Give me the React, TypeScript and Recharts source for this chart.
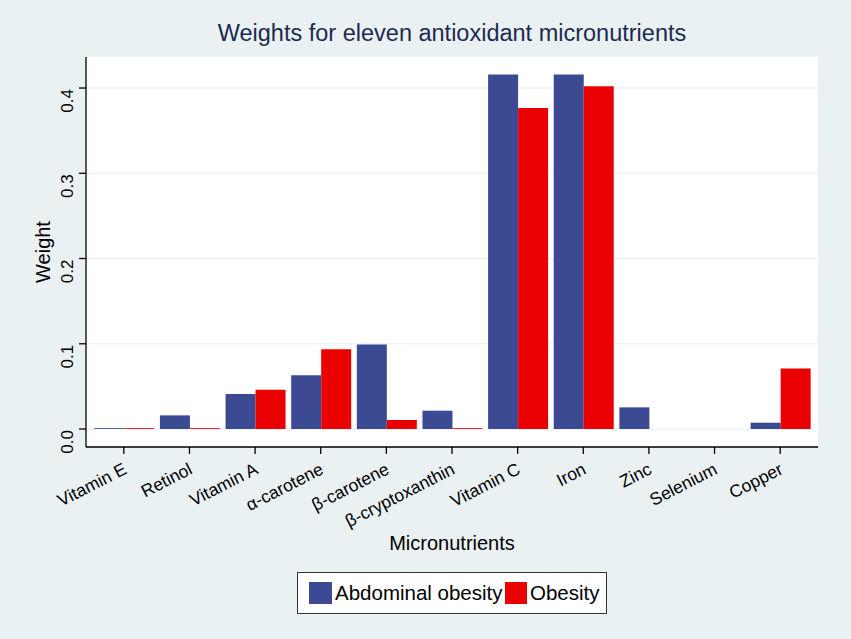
import { BarChart, Bar, XAxis, YAxis, CartesianGrid } from "recharts";

const categories = [
  "Vitamin E",
  "Retinol",
  "Vitamin A",
  "α-carotene",
  "β-carotene",
  "β-cryptoxanthin",
  "Vitamin C",
  "Iron",
  "Zinc",
  "Selenium",
  "Copper",
];
const abdominalObesity = [0.001, 0.016, 0.041, 0.063, 0.099, 0.0215, 0.416, 0.416, 0.0254, 0, 0.0074];
const obesity = [0.001, 0.001, 0.046, 0.0935, 0.0106, 0.001, 0.3765, 0.402, 0, 0, 0.071];
const yTicks = [0, 0.1, 0.2, 0.3, 0.4];

const data = categories.map((name, i) => ({
  name,
  abdominal: abdominalObesity[i],
  obesity: obesity[i],
}));

const FONT = '"Liberation Sans", Arial, Helvetica, sans-serif';
const BLUE = "#3b4a92";
const RED = "#eb0000";
const BG = "#eaf1f3";

function YTick({ y, payload }: { y?: number; payload?: { value: number } }) {
  const ty = (y ?? 0) + 1;
  return (
    <text
      x={73}
      y={ty}
      transform={`rotate(-90 73 ${ty})`}
      textAnchor="end"
      fontSize={17}
      fontFamily={FONT}
      fill="#000"
    >
      {payload ? payload.value.toFixed(1) : ""}
    </text>
  );
}

function XTick({ x, payload }: { x?: number; payload?: { value: string } }) {
  const tx = (x ?? 0) + 4;
  const ty = 473;
  return (
    <text
      x={tx}
      y={ty}
      transform={`rotate(-27 ${tx} ${ty})`}
      textAnchor="end"
      fontSize={17.5}
      fontFamily={FONT}
      fill="#000"
    >
      {payload?.value}
    </text>
  );
}

const legendText = { position: "absolute" as const, top: 9, fontSize: 20.5, lineHeight: "22px" };

export default function App() {
  return (
    <div
      style={{
        position: "absolute",
        left: 0,
        top: 0,
        width: 851,
        height: 639,
        background: BG,
        fontFamily: FONT,
      }}
    >
      <div
        style={{
          position: "absolute",
          left: 0,
          width: 904,
          top: 22,
          textAlign: "center",
          fontSize: 23.5,
          lineHeight: "23.5px",
          color: "#1c2a4f",
          whiteSpace: "nowrap",
        }}
      >
        Weights for eleven antioxidant micronutrients
      </div>

      <BarChart
        width={851}
        height={639}
        data={data}
        margin={{ top: 57, right: 33, bottom: 132, left: 0 }}
        barCategoryGap="5%"
        barGap={0}
        style={{ position: "absolute", left: 0, top: 0 }}
      >
        <CartesianGrid vertical={false} fill="#ffffff" stroke="#e4ecf0" horizontalValues={yTicks} />
        <XAxis
          dataKey="name"
          height={60}
          padding={{ left: 5, right: 5 }}
          tick={<XTick />}
          tickSize={7}
          interval={0}
          axisLine={{ stroke: "#000", strokeWidth: 1.3 }}
          tickLine={{ stroke: "#000", strokeWidth: 1.3 }}
          label={{
            content: () => (
              <text x={452} y={550} textAnchor="middle" fontSize={20} fontFamily={FONT} fill="#000">
                Micronutrients
              </text>
            ),
          }}
        />
        <YAxis
          width={86}
          type="number"
          domain={[-0.0211, 0.4364]}
          allowDataOverflow
          ticks={yTicks}
          tick={<YTick />}
          tickSize={7}
          axisLine={{ stroke: "#000", strokeWidth: 1.3 }}
          tickLine={{ stroke: "#000", strokeWidth: 1.3 }}
          label={{
            content: () => (
              <text
                x={50}
                y={252}
                transform="rotate(-90 50 252)"
                textAnchor="middle"
                fontSize={20}
                fontFamily={FONT}
                fill="#000"
              >
                Weight
              </text>
            ),
          }}
        />
        <Bar dataKey="abdominal" fill={BLUE} isAnimationActive={false} />
        <Bar dataKey="obesity" fill={RED} isAnimationActive={false} />
      </BarChart>

      <div
        style={{
          position: "absolute",
          left: 297,
          top: 572,
          width: 310,
          height: 42,
          background: "#fff",
          border: "1px solid #333",
          boxSizing: "border-box",
          color: "#000",
          whiteSpace: "nowrap",
        }}
      >
        <span style={{ position: "absolute", left: 11, top: 9, width: 23, height: 22, background: BLUE }} />
        <span style={{ ...legendText, left: 37 }}>Abdominal obesity</span>
        <span style={{ position: "absolute", left: 207, top: 9, width: 22, height: 22, background: RED }} />
        <span style={{ ...legendText, left: 232 }}>Obesity</span>
      </div>
    </div>
  );
}
